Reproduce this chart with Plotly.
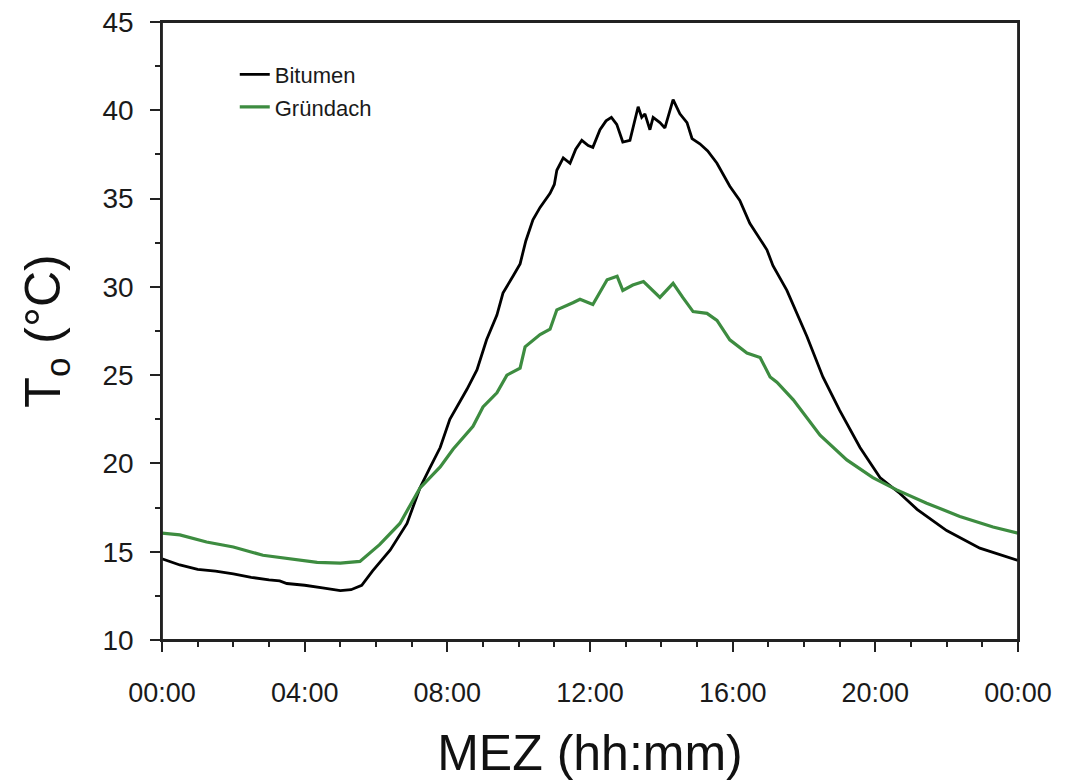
import plotly.graph_objects as go

# Time in hours (MEZ), temperature in °C
bitumen_h = [0.0, 0.5, 1.0, 1.5, 2.0, 2.5, 3.0, 3.3, 3.5, 4.0, 4.5, 5.0, 5.3, 5.6, 5.9, 6.2, 6.4,
             6.87, 7.23, 7.5, 7.8, 8.07, 8.3, 8.55, 8.83, 9.1, 9.39, 9.56, 9.84, 10.04, 10.2, 10.4,
             10.6, 10.88, 11.0, 11.07, 11.25, 11.44, 11.6, 11.77, 11.95, 12.08, 12.28, 12.45, 12.6,
             12.75, 12.92, 13.12, 13.35, 13.45, 13.54, 13.68, 13.77, 13.96, 14.1, 14.33, 14.52,
             14.72, 14.86, 15.08, 15.3, 15.56, 15.92, 16.2, 16.48, 16.96, 17.13, 17.52, 18.08,
             18.53, 19.0, 19.57, 20.13, 20.69, 21.17, 22.0, 22.93, 24.0]
bitumen_t = [14.6, 14.25, 14.0, 13.9, 13.75, 13.55, 13.4, 13.35, 13.2, 13.1, 12.95, 12.8, 12.85, 13.1,
             13.9, 14.6, 15.1, 16.6, 18.6, 19.7, 20.9, 22.5, 23.3, 24.2, 25.3, 27.0, 28.4, 29.65,
             30.6, 31.3, 32.6, 33.8, 34.5, 35.3, 35.8, 36.6, 37.3, 37.0, 37.8, 38.3, 38.0, 37.9,
             38.9, 39.4, 39.6, 39.2, 38.2, 38.3, 40.2, 39.6, 39.8, 38.9, 39.6, 39.3, 39.0, 40.6,
             39.8, 39.3, 38.4, 38.1, 37.7, 37.0, 35.7, 34.9, 33.6, 32.1, 31.2, 29.8, 27.2, 24.9,
             23.0, 20.9, 19.2, 18.3, 17.4, 16.2, 15.2, 14.5]

gruendach_h = [0.0, 0.5, 1.25, 2.0, 2.83, 3.6, 4.35, 5.0, 5.55, 6.1, 6.67, 7.23, 7.8, 8.16, 8.72,
               9.0, 9.39, 9.67, 10.04, 10.18, 10.6, 10.88, 11.07, 11.52, 11.72, 12.08, 12.28,
               12.48, 12.76, 12.92, 13.2, 13.5, 13.96, 14.33, 14.6, 14.89, 15.28, 15.56, 15.92,
               16.4, 16.77, 17.05, 17.24, 17.7, 18.45, 19.2, 19.93, 20.6, 21.44, 22.37, 23.3, 24.0]
gruendach_t = [16.05, 15.95, 15.55, 15.27, 14.8, 14.6, 14.4, 14.35, 14.45, 15.4, 16.6, 18.6, 19.8,
               20.8, 22.1, 23.2, 24.0, 25.0, 25.4, 26.6, 27.3, 27.6, 28.7, 29.1, 29.3, 29.0, 29.7,
               30.4, 30.6, 29.8, 30.1, 30.3, 29.4, 30.2, 29.4, 28.6, 28.5, 28.1, 27.0, 26.25, 26.0,
               24.9, 24.6, 23.6, 21.6, 20.2, 19.2, 18.5, 17.75, 17.0, 16.4, 16.05]

x_tickvals = [0, 4, 8, 12, 16, 20, 24]
x_ticktext = ["00:00", "04:00", "08:00", "12:00", "16:00", "20:00", "00:00"]
y_tickvals = [10, 15, 20, 25, 30, 35, 40, 45]

FONT = "Arial, Liberation Sans, sans-serif"
AXC = "#222"

fig = go.Figure()
fig.add_trace(go.Scatter(x=bitumen_h, y=bitumen_t, mode="lines", name="Bitumen",
                         legendgroup="a", line=dict(color="#000000", width=2.8)))
fig.add_trace(go.Scatter(x=gruendach_h, y=gruendach_t, mode="lines", name="Gründach",
                         legendgroup="b", line=dict(color="#3d8c40", width=3.2)))

# plot frame
fig.add_shape(type="rect", xref="paper", yref="paper", x0=0, x1=1, y0=0, y1=1,
              line=dict(color=AXC, width=1.8), layer="above")

fig.update_layout(
    width=1072, height=781,
    margin=dict(l=162, r=54, t=22, b=141, autoexpand=False),
    paper_bgcolor="white", plot_bgcolor="white",
    font=dict(family=FONT, color="#1a1a1a"),
    showlegend=True,
    legend=dict(x=0.085, y=0.949, xanchor="left", yanchor="top",
                font=dict(size=22, family=FONT, color="#1a1a1a"),
                bgcolor="rgba(0,0,0,0)", tracegroupgap=1, traceorder="grouped"),
    xaxis=dict(range=[0, 24], tickvals=x_tickvals, ticktext=x_ticktext, automargin=False,
               ticks="outside", ticklen=10, tickwidth=1.5, tickcolor=AXC,
               showline=True, linecolor=AXC, linewidth=1.5, mirror=True,
               showgrid=False, zeroline=False, ticklabelstandoff=18, ticklabeloverflow="allow",
               tickfont=dict(size=27, family=FONT, color="#1a1a1a"),
               minor=dict(dtick=1, ticks="outside", ticklen=5, tickwidth=1.5, tickcolor=AXC, showgrid=False),
               title=dict(text="MEZ (hh:mm)", font=dict(size=50, family=FONT, color="#111"), standoff=29)),
    yaxis=dict(range=[10, 45], tickvals=y_tickvals, automargin=False,
               ticks="outside", ticklen=10, tickwidth=1.5, tickcolor=AXC,
               showline=True, linecolor=AXC, linewidth=1.5, mirror=True,
               showgrid=False, zeroline=False, ticklabelstandoff=11, ticklabeloverflow="allow",
               tickfont=dict(size=28, family=FONT, color="#1a1a1a"),
               minor=dict(dtick=2.5, ticks="outside", ticklen=5, tickwidth=1.5, tickcolor=AXC, showgrid=False),
               title=dict(text="T<sub>o</sub> (°C)", font=dict(size=50, family=FONT, color="#111"), standoff=26)),
)

fig.write_html("out.html", post_script="document.body.style.margin='0';",
               config={"displayModeBar": False})
